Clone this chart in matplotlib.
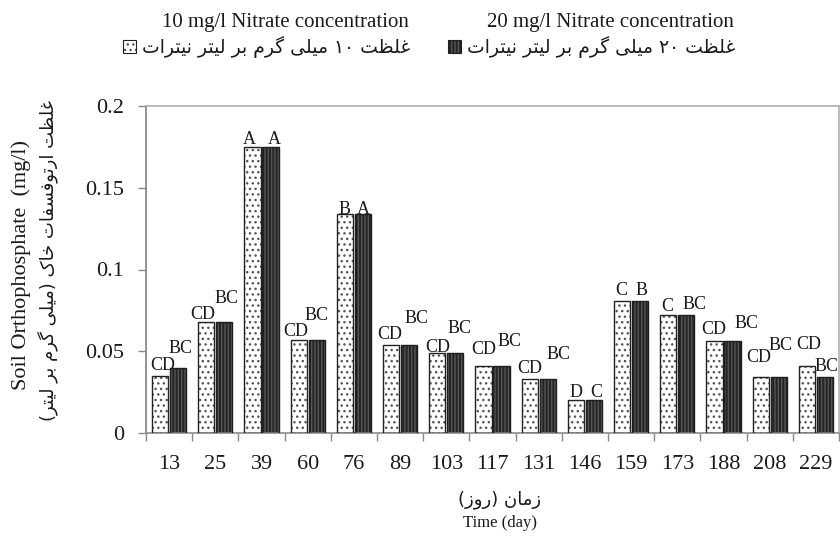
import re
import matplotlib
matplotlib.use("Agg")
import matplotlib.pyplot as plt
from matplotlib.patches import Rectangle
import numpy as np

# Sampling days and mean soil orthophosphate (mg/l) for both nitrate levels
days = ["13", "25", "39", "60", "76", "89", "103", "117", "131", "146",
        "159", "173", "188", "208", "229"]
nitrate_10 = [0.035, 0.068, 0.175, 0.057, 0.134, 0.054, 0.049, 0.041, 0.033,
              0.020, 0.081, 0.072, 0.056, 0.034, 0.041]
nitrate_20 = [0.040, 0.068, 0.175, 0.057, 0.134, 0.054, 0.049, 0.041, 0.033,
              0.020, 0.081, 0.072, 0.056, 0.034, 0.034]
# Duncan grouping letters
groups_10 = ["CD", "CD", "A", "CD", "B", "CD", "CD", "CD", "CD", "D",
             "C", "C", "CD", "CD", "CD"]
groups_20 = ["BC", "BC", "A", "BC", "A", "BC", "BC", "BC", "BC", "C",
             "B", "BC", "BC", "BC", "BC"]

# Letter placement (pixel offsets of the letter centre from the bar top)
letter_off_10 = [(3, 12), (-4, 9), (-3, 9), (-3, 10), (0, 6), (-1, 12), (0, 7),
                 (0, 18), (0, 12), (0, 9), (-1, 12), (-1, 10), (-1, 13),
                 (-2, 21), (2, 23)]
letter_off_20 = [(2, 21), (2, 25), (4, 9), (0, 26), (0, 6), (7, 28), (4, 26),
                 (8, 26), (11, 26), (2, 9), (1, 12), (8, 12), (14, 19),
                 (2, 33), (2, 12)]

legend_en = ["10 mg/l Nitrate concentration", "20 mg/l Nitrate concentration"]
legend_fa = ["غلظت ۱۰ میلی گرم بر لیتر نیترات", "غلظت ۲۰ میلی گرم بر لیتر نیترات"]
ylabel_en = "Soil Orthophosphate  (mg/l)"
ylabel_fa = "غلظت ارتوفسفات خاک (میلی گرم بر لیتر)"
xlabel_en = "Time (day)"
xlabel_fa = "زمان (روز)"

# --- minimal Persian shaping (presentation forms + visual order) ---------
FORMS = {  # isolated, final, initial, medial
    "ا": ("\uFE8D", "\uFE8E", None, None),
    "ب": ("\uFE8F", "\uFE90", "\uFE91", "\uFE92"),
    "ت": ("\uFE95", "\uFE96", "\uFE97", "\uFE98"),
    "خ": ("\uFEA5", "\uFEA6", "\uFEA7", "\uFEA8"),
    "ر": ("\uFEAD", "\uFEAE", None, None),
    "ز": ("\uFEAF", "\uFEB0", None, None),
    "س": ("\uFEB1", "\uFEB2", "\uFEB3", "\uFEB4"),
    "ظ": ("\uFEC5", "\uFEC6", "\uFEC7", "\uFEC8"),
    "غ": ("\uFECD", "\uFECE", "\uFECF", "\uFED0"),
    "ف": ("\uFED1", "\uFED2", "\uFED3", "\uFED4"),
    "ل": ("\uFEDD", "\uFEDE", "\uFEDF", "\uFEE0"),
    "م": ("\uFEE1", "\uFEE2", "\uFEE3", "\uFEE4"),
    "ن": ("\uFEE5", "\uFEE6", "\uFEE7", "\uFEE8"),
    "و": ("\uFEED", "\uFEEE", None, None),
    "ک": ("\uFB8E", "\uFB8F", "\uFB90", "\uFB91"),
    "گ": ("\uFB92", "\uFB93", "\uFB94", "\uFB95"),
    "ی": ("\uFBFC", "\uFBFD", "\uFBFE", "\uFBFF"),
}
MIRROR = str.maketrans("()", ")(")


def fa(text):
    def dual(c):
        return c in FORMS and FORMS[c][2] is not None
    shaped = []
    for i, c in enumerate(text):
        if c not in FORMS:
            shaped.append(c)
            continue
        prev_j = i > 0 and dual(text[i - 1])
        next_j = dual(c) and i + 1 < len(text) and text[i + 1] in FORMS
        iso, fin, ini, med = FORMS[c]
        shaped.append(med if prev_j and next_j else fin if prev_j
                      else ini if next_j else iso)
    runs = re.findall(r"[\u06F0-\u06F90-9]+|[^\u06F0-\u06F90-9]", "".join(shaped))
    return "".join(reversed(runs)).translate(MIRROR)


SERIF = ["Liberation Serif", "DejaVu Serif"]
ARABIC = ["DejaVu Sans"]
INK = "#1a1a1a"

W, H = 840, 543
fig = plt.figure(figsize=(W / 100, H / 100), dpi=100)
ax = fig.add_axes([146 / W, 1 - 433 / H, (839 - 146) / W, (433 - 106) / H])

x = np.arange(len(days))
bw, shift = 0.35, 0.195
xa, xb = x - shift, x + shift

# light bars: white with dark dots; dark bars: near-black with grey streaks
ax.bar(xa, nitrate_10, bw, color="white", edgecolor="#555555", hatch="...",
       linewidth=0, zorder=2)
ax.bar(xa, nitrate_10, bw, fill=False, edgecolor="#222222", linewidth=1.0, zorder=3)
ax.bar(xb, nitrate_20, bw, color="#242424", edgecolor="#555555", hatch="|||||",
       linewidth=0, zorder=2)
ax.bar(xb, nitrate_20, bw, fill=False, edgecolor="#1e1e1e", linewidth=1.0, zorder=3)

for xs, vals, labs, offs in ((xa, nitrate_10, groups_10, letter_off_10),
                             (xb, nitrate_20, groups_20, letter_off_20)):
    for xi, v, lab, (dx, dy) in zip(xs, vals, labs, offs):
        ax.annotate(lab, (xi, v), xytext=(dx, dy - 6), textcoords="offset pixels",
                    ha="center", va="baseline", fontsize=13, family=SERIF,
                    color=INK, annotation_clip=False, zorder=4)

ax.set_xlim(-0.5, len(days) - 0.5)
ax.set_ylim(0, 0.2)
ax.set_yticks([0, 0.05, 0.1, 0.15, 0.2])
ax.set_yticklabels(["0", "0.05", "0.1", "0.15", "0.2"])
ax.set_xticks(x)
ax.set_xticklabels(days)
ax.set_xticks(np.arange(len(days) + 1) - 0.5, minor=True)
ax.tick_params(axis="x", which="major", length=0, pad=16)
ax.tick_params(axis="x", which="minor", length=6, width=1, color="#888888")
ax.tick_params(axis="y", length=6, width=1, color="#888888", pad=10)
for lab in ax.get_xticklabels() + ax.get_yticklabels():
    lab.set_family(SERIF)
    lab.set_fontsize(16)
    lab.set_color(INK)

for side, col in (("left", "#808080"), ("bottom", "#8c8c8c"),
                  ("top", "#b0b0b0"), ("right", "#b0b0b0")):
    ax.spines[side].set_color(col)
    ax.spines[side].set_linewidth(1.2)

# axis titles (English + Persian)
fig.text(21 / W, 1 - 265 / H, ylabel_en, rotation=90, ha="center", va="center",
         fontsize=16, family=SERIF, color=INK)
fig.text(48 / W, 1 - 260 / H, fa(ylabel_fa), rotation=90, ha="center",
         va="center", fontsize=13, family=ARABIC, color=INK)
fig.text(500 / W, 1 - 500 / H, fa(xlabel_fa), ha="center", va="center",
         fontsize=13, family=ARABIC, color=INK)
fig.text(500 / W, 1 - 523 / H, xlabel_en, ha="center", va="center",
         fontsize=12, family=SERIF, color=INK)

# legend built from text and swatches
legend_right = [410, 735]
swatch_style = [dict(facecolor="white", edgecolor="#555555", hatch="..."),
                dict(facecolor="#242424", edgecolor="#555555", hatch="|||||")]
fig.canvas.draw()
renderer = fig.canvas.get_renderer()
for en, fa_txt, right, sty in zip(legend_en, legend_fa, legend_right, swatch_style):
    fig.text((right - 125) / W, 1 - 23 / H, en, ha="center", va="center",
             fontsize=15, family=SERIF, color=INK)
    t = fig.text(right / W, 1 - 47 / H, fa(fa_txt), ha="right", va="center",
                 fontsize=13.5, family=ARABIC, color=INK)
    left_px = t.get_window_extent(renderer).x0
    sw = 13
    fig.patches.append(Rectangle(((left_px - 6 - sw) / W, 1 - 53 / H), sw / W,
                                 sw / H, transform=fig.transFigure,
                                 linewidth=0, **sty))
    fig.patches.append(Rectangle(((left_px - 6 - sw) / W, 1 - 53 / H), sw / W,
                                 sw / H, transform=fig.transFigure, fill=False,
                                 edgecolor="#222222", linewidth=0.8))

fig.savefig("out.png", dpi=100)
